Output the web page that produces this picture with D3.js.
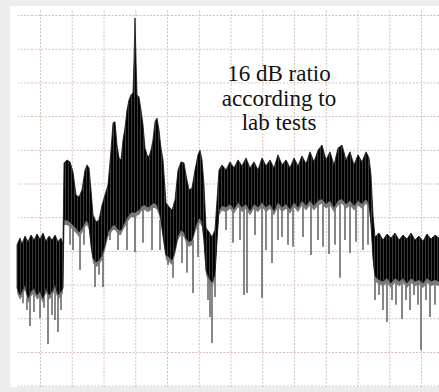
<!DOCTYPE html>
<html>
<head>
<meta charset="utf-8">
<script src="https://cdn.jsdelivr.net/npm/d3@7"></script>
<style>
  body { margin: 0; background: #ececec; }
  svg { display: block; }
</style>
</head>
<body>
<script>
// trace envelope: [trace point, top of trace (dB), bottom of solid band (dB)]
const trace = [
  [7, -68.2, -81], [10, -66.2, -83], [12, -67.9, -82], [15, -65.6, -80], [18, -67.3, -84],
  [21, -65.3, -82], [24, -66.8, -81], [27, -65.0, -83], [30, -66.5, -82], [33, -64.7, -84],
  [36, -67.1, -81], [39, -65.6, -83], [42, -66.8, -82], [45, -65.3, -80], [48, -67.3, -83],
  [51, -66.2, -82], [53, -68.2, -81],
  [54, -43.9, -60.8], [57, -43.0, -60.8], [60, -43.6, -61.4], [63, -46.6, -62.3], [66, -53.4, -63.2],
  [69, -54.0, -64.4], [72, -51.9, -63.2], [75, -46.0, -61.4], [77, -44.5, -60.8], [79, -45.4, -62.3],
  [81, -51.9, -68.2], [83, -59.3, -72.1], [86, -61.4, -73.3], [89, -60.8, -72.7], [92, -56.4, -71.2],
  [95, -53.4, -68.2], [98, -50.4, -64.4], [101, -40.1, -63.2], [103, -32.0, -62.3], [105, -31.7, -62.3],
  [107, -38.6, -63.2], [109, -42.4, -63.8], [111, -43.0, -63.8], [113, -37.1, -62.3], [115, -33.5, -61.4],
  [117, -28.2, -60.2], [119, -25.2, -59.3], [121, -23.7, -58.5], [123, -23.1, -58.5], [124, -13.4, -58.5],
  [125, -0.9, -58.5], [126, -13.4, -58.5], [127, -23.7, -57.9], [129, -24.3, -57.9], [131, -28.2, -56.9],
  [133, -32.6, -56.4], [135, -39.5, -56.4], [137, -41.5, -56.9], [139, -42.1, -56.9], [141, -40.1, -56.4],
  [143, -37.1, -55.8], [145, -31.7, -55.8], [147, -30.6, -56.4], [149, -34.1, -57.9], [151, -39.5, -60.8],
  [153, -43.0, -65.3], [156, -55.8, -71.2], [159, -56.9, -71.8], [162, -57.9, -72.7], [165, -54.9, -69.7],
  [168, -46.0, -65.3], [171, -43.6, -63.8], [174, -43.9, -64.4], [176, -47.5, -66.2], [179, -51.9, -67.3],
  [182, -51.3, -66.8], [185, -46.0, -63.2], [188, -41.5, -60.8], [190, -40.1, -60.2], [192, -43.0, -61.4],
  [194, -50.4, -66.8], [196, -63.2, -75.7], [199, -64.4, -78.0], [202, -65.9, -79.2], [205, -63.8, -77.1],
  [207, -54.9, -66.8], [209, -46.0, -57.9],
  [212, -44.5, -56.5], [216, -46.0, -57], [220, -43.6, -56], [224, -45.4, -57.5], [228, -43.0, -55.5],
  [232, -44.8, -57], [236, -42.4, -56], [240, -45.4, -58], [244, -43.6, -56], [248, -46.0, -57],
  [252, -42.4, -55.5], [256, -44.8, -57], [260, -43.0, -56], [264, -45.4, -58], [268, -41.5, -55.5],
  [272, -44.5, -57], [276, -43.0, -56], [280, -45.4, -57.5], [284, -42.4, -55.5], [288, -44.8, -57],
  [292, -41.8, -55], [296, -44.2, -56.5], [300, -40.6, -55], [304, -43.6, -56.5], [308, -40.1, -55],
  [312, -38.6, -54.5], [316, -43.0, -56], [320, -40.6, -55], [324, -44.5, -57], [328, -39.5, -55],
  [332, -38.6, -54.5], [336, -43.0, -56], [340, -40.6, -55], [344, -44.5, -56.5], [348, -41.5, -55],
  [352, -43.6, -56], [356, -40.6, -54.5], [359, -42.4, -56], [361, -47.5, -62], [363, -59.3, -72],
  [365, -65.9, -77.5], [369, -64.7, -78.5], [373, -66.8, -79], [377, -65.0, -78], [381, -66.2, -79.5],
  [385, -64.7, -78], [389, -66.8, -79], [393, -65.3, -78], [397, -66.5, -79.5], [401, -64.7, -78],
  [405, -66.8, -79], [409, -65.6, -78.5], [413, -67.1, -79.5], [417, -65.0, -78], [421, -66.5, -79],
  [425, -65.3, -78.5], [429, -66.2, -79]
];

// single noise spikes reaching below the solid band: [trace point, lowest level (dB)]
const spikes = [
  [13, -85.5], [17, -87.5], [20, -92.3], [24, -88.1], [30, -89.9], [34, -86.9], [38, -97.6],
  [42, -89.0], [45, -90.5], [48, -94.1], [51, -87.5],
  [60, -68.2], [63, -69.7], [70, -75.7], [74, -68.2], [85, -80.7], [89, -77.1], [93, -80.7],
  [100, -66.8], [108, -69.7], [117, -69.7], [125, -70.3], [133, -67.6], [142, -69.7], [150, -69.7],
  [158, -74.2], [163, -78.0], [172, -73.6], [177, -76.5], [183, -82.5], [188, -71.8],
  [198, -84.6], [200, -89.6], [202, -97.3], [205, -83.7],
  [216, -63.8], [223, -67.6], [230, -66.8], [234, -83.1], [237, -82.5], [245, -65.3], [252, -84.0],
  [256, -69.7], [262, -73.6], [268, -66.8], [272, -65.9], [278, -68.2], [283, -68.8], [293, -65.9],
  [301, -71.2], [308, -66.8], [313, -68.8], [319, -70.9], [325, -68.2], [330, -78.0], [335, -66.8],
  [340, -70.6], [346, -67.3], [353, -69.7], [358, -68.2],
  [365, -84.6], [369, -83.1], [373, -87.5], [377, -91.1], [382, -84.6], [386, -86.0], [392, -90.2],
  [396, -84.6], [400, -87.5], [404, -83.1], [408, -86.0], [411, -99.4], [416, -84.6], [420, -89.6],
  [425, -86.0]
];

const gridLevels = [0, -10, -20, -30, -40, -50, -60, -70, -80, -90, -100, -110];
const pointsPerDiv = 31.75;
const note = ['16 dB ratio', 'according to', 'lab tests'];

const W = 439, H = 392;
const frame = { left: 10, top: 6, right: 439, bottom: 387 };

const svg = d3.select('body').append('svg')
  .attr('width', W)
  .attr('height', H);

const x = d3.scaleLinear().domain([0, 429]).range([frame.left, frame.right]);
const y = d3.scaleLinear().domain([0, -100]).range([15, 352]);

const defs = svg.append('defs');

// screen
svg.append('rect')
  .attr('x', frame.left)
  .attr('y', frame.top)
  .attr('width', frame.right - frame.left)
  .attr('height', frame.bottom - frame.top)
  .attr('fill', '#fff');

defs.append('clipPath').attr('id', 'screen')
  .append('rect')
  .attr('x', frame.left)
  .attr('y', frame.top)
  .attr('width', frame.right - frame.left)
  .attr('height', frame.bottom - frame.top);

const gridX = d3.range(30 - pointsPerDiv, 440, pointsPerDiv);

// grid
const grid = svg.append('g').attr('clip-path', 'url(#screen)');

grid.append('g')
  .attr('transform', `translate(${frame.right},0)`)
  .call(d3.axisLeft(y).tickValues(gridLevels).tickSize(frame.right - 18).tickFormat(''))
  .call(g => g.select('.domain').remove());

grid.append('g')
  .attr('transform', `translate(0,${frame.bottom})`)
  .call(d3.axisTop(x).tickValues(gridX).tickSize(frame.bottom - 10).tickFormat(''))
  .call(g => g.select('.domain').remove());

grid.selectAll('line')
  .attr('stroke', '#d4bfba')
  .attr('stroke-width', 1)
  .attr('stroke-dasharray', '2,1.5');

// trace
defs.append('filter').attr('id', 'soft')
  .append('feGaussianBlur').attr('stdDeviation', 0.55);

// vertical sweep texture of the trace band
const stripes = defs.append('pattern')
  .attr('id', 'sweep')
  .attr('patternUnits', 'userSpaceOnUse')
  .attr('width', 3)
  .attr('height', 6);
stripes.append('rect').attr('width', 3).attr('height', 6).attr('fill', '#3a3a3a');
stripes.append('rect').attr('width', 2).attr('height', 6).attr('fill', '#050505');

const traceG = svg.append('g')
  .attr('clip-path', 'url(#screen)')
  .attr('filter', 'url(#soft)');

const coreAt = b => trace[d3.bisector(d => d[0]).center(trace, b)][2];

traceG.selectAll('.spike')
  .data(spikes)
  .enter().append('line')
  .attr('class', 'spike')
  .attr('x1', d => x(d[0]))
  .attr('x2', d => x(d[0]))
  .attr('y1', d => y(coreAt(d[0])))
  .attr('y2', d => y(d[1]))
  .attr('stroke', '#606060')
  .attr('stroke-width', 1.5);

traceG.append('path')
  .datum(trace)
  .attr('fill', '#7a7a7a')
  .attr('d', d3.area()
    .x(d => x(d[0]))
    .y0(d => y(d[2] - 1.5))
    .y1(d => y(d[2] + 3)));

traceG.append('path')
  .datum(trace)
  .attr('fill', 'url(#sweep)')
  .attr('stroke', '#111')
  .attr('stroke-width', 0.8)
  .attr('d', d3.area()
    .x(d => x(d[0]))
    .y0(d => y(d[2]))
    .y1(d => y(d[1])));

// annotation
svg.append('text')
  .attr('x', 279)
  .attr('y', 81)
  .attr('text-anchor', 'middle')
  .style('font-family', '"Liberation Serif", "Times New Roman", serif')
  .style('font-size', '23px')
  .attr('fill', '#111')
  .selectAll('tspan')
  .data(note)
  .enter().append('tspan')
  .attr('x', 279)
  .attr('dy', (d, i) => i === 0 ? 0 : 24.5)
  .text(d => d);
</script>
</body>
</html>
